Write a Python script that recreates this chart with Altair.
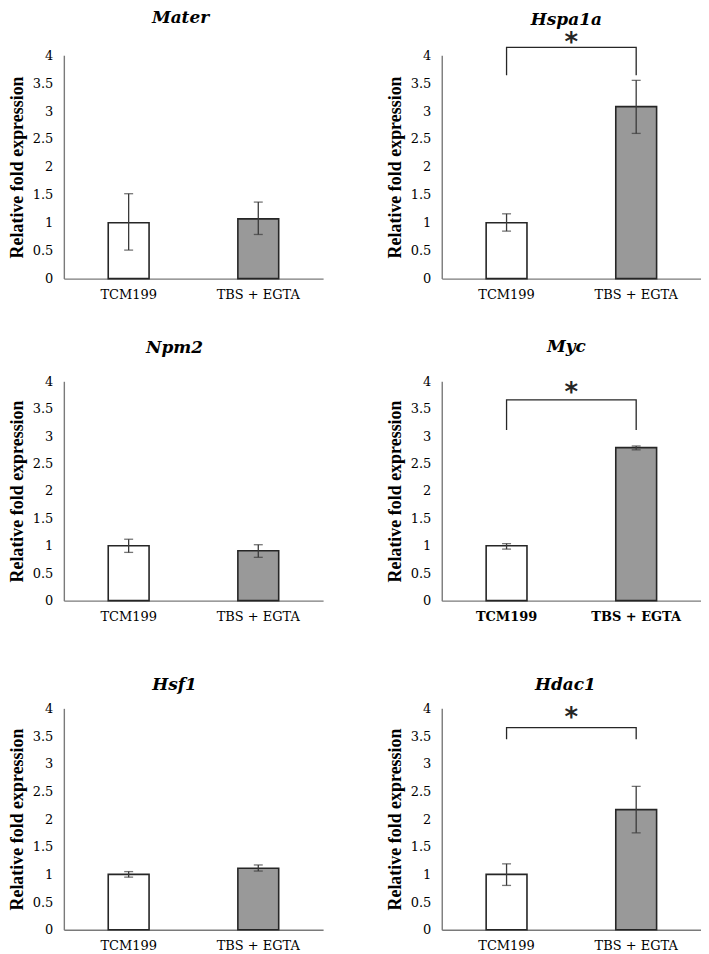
import altair as alt
import pandas as pd

genes = ["Mater", "Hspa1a", "Npm2", "Myc", "Hsf1", "Hdac1"]
groups = ["TCM199", "TBS + EGTA"]
tcm_mean = [1.0, 1.0, 1.0, 1.0, 1.0, 1.0]
tcm_low = [0.51, 0.85, 0.88, 0.94, 0.95, 0.80]
tcm_high = [1.52, 1.16, 1.12, 1.04, 1.05, 1.19]
tbs_mean = [1.07, 3.08, 0.91, 2.79, 1.11, 2.17]
tbs_low = [0.79, 2.60, 0.79, 2.75, 1.06, 1.75]
tbs_high = [1.37, 3.55, 1.02, 2.82, 1.17, 2.59]
sig_genes = ["Hspa1a", "Myc", "Hdac1"]
bracket_top = [4.14, 3.66, 3.65]
bracket_leg = [3.64, 3.11, 3.44]
star_y = [4.34, 3.91, 3.95]
y_ticks = [0, 0.5, 1, 1.5, 2, 2.5, 3, 3.5, 4]
y_title = "Relative fold expression"

INK = "#262626"
ERR = "#3a3a3a"
AXC = "#7a7a7a"


def xenc(bold=False):
    return alt.X(
        "group:N", sort=groups, title=None,
        scale=alt.Scale(domain=groups, paddingInner=0.685, paddingOuter=0.3425),
        axis=alt.Axis(
            labelAngle=0, labelFont="DejaVu Serif", labelFontSize=13,
            labelFontWeight="bold" if bold else "normal", labelColor="black",
            labelPadding=10, ticks=False, tickSize=0, grid=False,
            domainColor=AXC, domainWidth=1.4,
        ),
    )


def yenc(field):
    return alt.Y(
        field, title=y_title,
        scale=alt.Scale(domain=[0, 4], nice=False, zero=True),
        axis=alt.Axis(
            values=y_ticks, format="~g", grid=False, ticks=False, tickSize=0,
            labelFont="DejaVu Serif", labelFontSize=13, labelColor="black",
            labelPadding=11, domainColor=AXC, domainWidth=1.4,
            titleFont="Liberation Serif", titleFontSize=18, titleFontWeight="bold",
            titleColor="black", titlePadding=6,
        ),
    )


def panel(i, w, h, t_offset, t_dx, bold=False):
    g = genes[i]
    df = pd.DataFrame({
        "group": groups,
        "mean": [tcm_mean[i], tbs_mean[i]],
        "low": [tcm_low[i], tbs_low[i]],
        "high": [tcm_high[i], tbs_high[i]],
    })
    bars = alt.Chart(df).mark_bar(stroke=INK, strokeWidth=1.6).encode(
        x=xenc(bold),
        y=yenc("mean:Q"),
        fill=alt.Fill("group:N", scale=alt.Scale(domain=groups, range=["#ffffff", "#999999"]), legend=None),
    )
    rule = alt.Chart(df).mark_rule(color=ERR, strokeWidth=1.3).encode(
        x=xenc(bold), y=yenc("low:Q"), y2="high:Q"
    )
    cap_lo = alt.Chart(df).mark_tick(color=ERR, size=9, thickness=1.3).encode(
        x=xenc(bold), y=yenc("low:Q")
    )
    cap_hi = alt.Chart(df).mark_tick(color=ERR, size=9, thickness=1.3).encode(
        x=xenc(bold), y=yenc("high:Q")
    )
    layers = [bars, rule, cap_lo, cap_hi]
    if g in sig_genes:
        k = sig_genes.index(g)
        bdf = pd.DataFrame({
            "group": [groups[0], groups[0], groups[1], groups[1]],
            "v": [bracket_leg[k], bracket_top[k], bracket_top[k], bracket_leg[k]],
            "o": [0, 1, 2, 3],
        })
        line = alt.Chart(bdf).mark_line(color=INK, strokeWidth=1.3, clip=False).encode(
            x=xenc(bold), y=yenc("v:Q"), order="o:Q"
        )
        sdf = pd.DataFrame({"group": [groups[0]], "v": [star_y[k]]})
        star = alt.Chart(sdf).mark_text(
            text="*", font="DejaVu Sans", fontSize=26, fontWeight="bold",
            color=INK, dx=65, dy=15, baseline="alphabetic", clip=False,
        ).encode(x=xenc(bold), y=yenc("v:Q"))
        layers += [line, star]
    return alt.layer(*layers).properties(
        width=w,
        height=h,
        title=alt.TitleParams(
            g, font="DejaVu Serif", fontSize=17, fontStyle="italic", fontWeight="bold",
            color="black", anchor="middle", frame="group", offset=t_offset, dx=t_dx,
        ),
    )


row1 = alt.hconcat(
    panel(0, 260, 224, 22, -13), panel(1, 260, 224, 1, -5), spacing=63
)
row2 = alt.hconcat(
    panel(2, 260, 220, 18, -19), panel(3, 260, 220, 19, -5, bold=True), spacing=63
)
row3 = alt.hconcat(
    panel(4, 260, 222, 8, -19), panel(5, 260, 222, 8, -6), spacing=63
)

chart = alt.vconcat(
    alt.vconcat(row1, row2, spacing=37), row3, spacing=53
).properties(
    padding={"left": 0, "top": 0, "right": 0, "bottom": 0},
    background="white",
).configure_view(stroke=None)

chart.save("out.html", embed_options={"renderer": "svg", "actions": False})
